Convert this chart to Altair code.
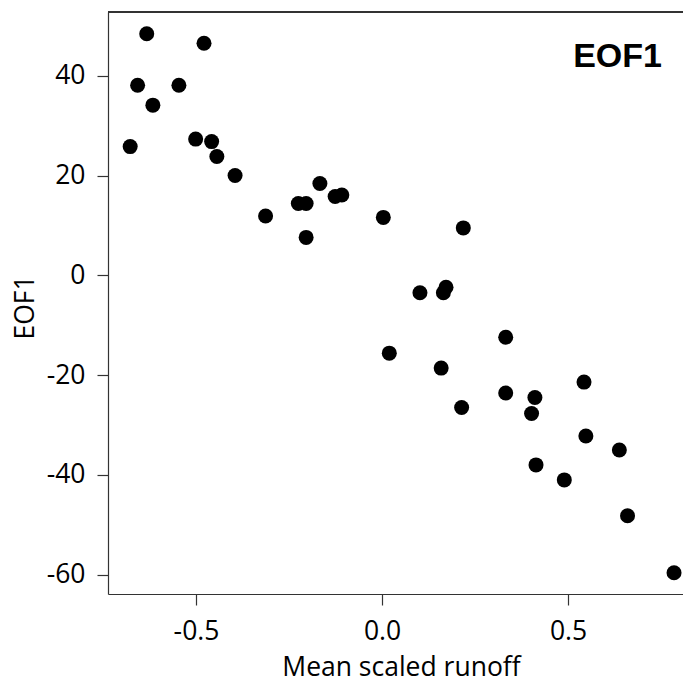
import altair as alt
import pandas as pd

runoff = [-0.6325, -0.4785, -0.657, -0.546, -0.616, -0.677, -0.501, -0.458, -0.444, -0.395,
          -0.313, -0.225, -0.204, -0.167, -0.126, -0.108, -0.204, 0.0035, 0.2185, 0.102,
          0.172, 0.165, 0.3325, 0.0196, 0.159, 0.214, 0.3325, 0.411, 0.402, 0.414,
          0.543, 0.548, 0.638, 0.490, 0.660, 0.785]
eof1 = [48.4, 46.5, 38.1, 38.1, 34.1, 25.8, 27.3, 26.8, 23.8, 20.0,
        11.9, 14.4, 14.4, 18.4, 15.8, 16.1, 7.6, 11.6, 9.5, -3.5,
        -2.4, -3.5, -12.4, -15.6, -18.6, -26.5, -23.6, -24.5, -27.7, -38.0,
        -21.4, -32.2, -35.0, -41.0, -48.2, -59.6]
x_ticks = [-0.5, 0.0, 0.5]
y_ticks = [-60, -40, -20, 0, 20, 40]
x_domain = [-0.7366, 0.8306]
y_domain = [-63.87, 52.77]
panel_label = "EOF1"

df = pd.DataFrame({"runoff": runoff, "eof1": eof1})

W, H = 583, 582
FONT = "Open Sans"
FS = 26.5

x_label_expr = "datum.value < 0 ? '-' + format(-datum.value, '.1f') : format(datum.value, '.1f')"
y_label_expr = "datum.value < 0 ? '-' + format(-datum.value, 'd') : format(datum.value, 'd')"

points = alt.Chart(df).mark_circle(size=225, color="black", opacity=1).encode(
    x=alt.X("runoff:Q",
            scale=alt.Scale(domain=x_domain, nice=False, zero=False),
            axis=alt.Axis(values=x_ticks, labelExpr=x_label_expr, title="Mean scaled runoff",
                          grid=False, tickSize=11, labelPadding=13,
                          titleX=293, titleY=81, titleAlign="center",
                          titleBaseline="alphabetic")),
    y=alt.Y("eof1:Q",
            scale=alt.Scale(domain=y_domain, nice=False, zero=False),
            axis=alt.Axis(values=y_ticks, labelExpr=y_label_expr, title="EOF1",
                          grid=False, tickSize=11, labelPadding=12,
                          titleX=-75, titleY=295, titleAlign="center",
                          titleBaseline="alphabetic", titleAngle=270)),
)

top_line = alt.Chart(df).mark_rule(color="#333", strokeWidth=1.2).encode(
    x=alt.value(0), x2=alt.value(W), y=alt.value(0)
)

label = alt.Chart(pd.DataFrame({"t": [panel_label]})).mark_text(
    font="Liberation Sans", fontWeight="bold", fontSize=34, align="right",
    baseline="alphabetic", color="black"
).encode(text="t:N", x=alt.value(554), y=alt.value(55))

chart = alt.layer(points, top_line, label).properties(
    width=W, height=H,
    autosize=alt.AutoSizeParams(type="none"),
    padding={"left": 100, "top": 4, "right": -8, "bottom": 82},
).configure_view(stroke=None).configure_axis(
    domainColor="#333", domainWidth=1.2, tickColor="#333", tickWidth=1.2,
    labelFont=FONT, titleFont=FONT, labelFontSize=FS, titleFontSize=FS,
    labelColor="black", titleColor="black", titleFontWeight="normal",
).configure_axisY(labelAngle=0)

chart.save("out.html", embed_options={"renderer": "svg", "actions": False})
